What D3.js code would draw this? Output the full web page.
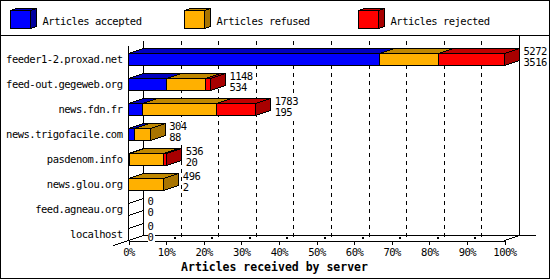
<!DOCTYPE html>
<html>
<head>
<meta charset="utf-8">
<script src="https://cdn.jsdelivr.net/npm/d3@7"></script>
<style>
  body { margin: 0; background: #fff; }
  text { font-family: "DejaVu Sans Mono", monospace; font-size: 10.5px; letter-spacing: -0.5px; fill: #000; }
</style>
</head>
<body>
<div id="chart-area"></div>
<script>
// Data
const servers = ["feeder1-2.proxad.net", "feed-out.gegeweb.org", "news.fdn.fr", "news.trigofacile.com",
    "pasdenom.info", "news.glou.org", "feed.agneau.org", "localhost"];
const totals   = [5272, 1148, 1783, 304, 536, 496, 0, 0];
const accepted = [3516, 534, 195, 88, 20, 2, 0, 0];
const refused  = [834, 544, 1039, 216, 475, 494, 0, 0];
const rejected = [922, 70, 549, 0, 41, 0, 0, 0];
const seriesNames = ["Articles accepted", "Articles refused", "Articles rejected"];
const tickValues = [0, 10, 20, 30, 40, 50, 60, 70, 80, 90, 100];
const axisTitle = "Articles received by server";

const chartWidth = 550, chartHeight = 280;
const depth = { dx: 15, dy: -5 };
const barHalf = 6;

const frontColors = ["#0000ff", "#ffb000", "#ff0000"];
const topColors   = ["#0000c0", "#c08800", "#c00000"];
const sideColors  = ["#0000a0", "#a87400", "#a80000"];

const svg = d3.select("#chart-area").append("svg")
    .attr("width", chartWidth)
    .attr("height", chartHeight)
    .attr("shape-rendering", "crispEdges");

const g = svg.append("g").attr("transform", "translate(0.5,0.5)");

// frames
g.append("rect").attr("x", 0).attr("y", 0).attr("width", 549).attr("height", 35)
    .attr("fill", "none").attr("stroke", "#000");
g.append("rect").attr("x", 0).attr("y", 35).attr("width", 549).attr("height", 243)
    .attr("fill", "none").attr("stroke", "#000");

// legend
const legend = g.selectAll(".legend").data(seriesNames).enter().append("g")
    .attr("class", "legend")
    .attr("transform", (d, i) => `translate(${10 + i * 174}, 10)`);
legend.append("polygon")
    .attr("points", "0,0 6,-2 26,-2 20,0")
    .attr("fill", (d, i) => topColors[i]).attr("stroke", "#000");
legend.append("polygon")
    .attr("points", "20,0 26,-2 26,16 20,18")
    .attr("fill", (d, i) => sideColors[i]).attr("stroke", "#000");
legend.append("rect")
    .attr("width", 20).attr("height", 18)
    .attr("fill", (d, i) => frontColors[i]).attr("stroke", "#000");
legend.append("text")
    .attr("x", 32).attr("y", 14)
    .text(d => d);

// scales
const x = d3.scaleLinear().domain([0, 100]).range([128, 504]);
const xv = d3.scaleLinear().domain([0, d3.max(totals)]).range([128, 504]);
const y = d3.scalePoint().domain(servers).range([59, 234]);

const floorY = 240;
const topY = 45;

// back wall + grid
tickValues.slice(1, -1).forEach(t => {
    g.append("line")
        .attr("x1", x(t) + depth.dx).attr("x2", x(t) + depth.dx)
        .attr("y1", topY + depth.dy).attr("y2", floorY + depth.dy + 2)
        .attr("stroke", "#000").attr("stroke-dasharray", "4,4");
});
g.append("line").attr("x1", x(0) + depth.dx).attr("x2", x(0) + depth.dx)
    .attr("y1", topY + depth.dy).attr("y2", floorY + depth.dy).attr("stroke", "#000");
g.append("line").attr("x1", x(100) + depth.dx).attr("x2", x(100) + depth.dx)
    .attr("y1", 35).attr("y2", floorY + depth.dy).attr("stroke", "#000");

// floor
g.append("line").attr("x1", x(0) + depth.dx).attr("x2", x(100) + 31)
    .attr("y1", floorY + depth.dy).attr("y2", floorY + depth.dy).attr("stroke", "#000");
g.append("line").attr("x1", x(0) - 15).attr("y1", floorY + 5)
    .attr("x2", x(0) + depth.dx).attr("y2", floorY + depth.dy).attr("stroke", "#000");
g.append("line").attr("x1", x(100)).attr("y1", floorY)
    .attr("x2", x(100) + depth.dx).attr("y2", floorY + depth.dy).attr("stroke", "#000");
g.append("line").attr("x1", x(0)).attr("x2", x(0))
    .attr("y1", topY).attr("y2", floorY).attr("stroke", "#000");

// bottom axis
const xAxis = g.append("g")
    .attr("transform", `translate(0,${floorY})`)
    .call(d3.axisBottom(x).tickValues(tickValues).tickFormat(d => d + "%").tickSize(4).tickPadding(4));
xAxis.select(".domain").attr("stroke", "#000");
xAxis.selectAll("text").attr("font-family", null).attr("font-size", null);
xAxis.selectAll(".tick").filter(d => d > 0 && d < 100).append("rect")
    .attr("x", 7).attr("y", -4).attr("width", 2).attr("height", 2).attr("fill", "#000");

// category labels
const yAxis = g.append("g")
    .attr("transform", "translate(125,0)")
    .call(d3.axisLeft(y).tickSize(0).tickPadding(3));
yAxis.select(".domain").remove();
yAxis.selectAll("text").attr("font-family", null).attr("font-size", null);

// bars
servers.forEach((s, i) => {
    const cy = y(s);
    const yt = cy - barHalf, yb = cy + barHalf;
    const values = [accepted[i], refused[i], rejected[i]];
    let start = 0;
    const bar = g.append("g").attr("class", "bar");
    values.forEach((v, k) => {
        if (v <= 0) return;
        const x0 = xv(start), x1 = xv(start + v);
        bar.append("polygon")
            .attr("points", [[x0, yt], [x0 + depth.dx, yt + depth.dy], [x1 + depth.dx, yt + depth.dy], [x1, yt]].join(" "))
            .attr("fill", topColors[k]).attr("stroke", "#000");
        bar.append("rect")
            .attr("x", x0).attr("y", yt).attr("width", x1 - x0).attr("height", yb - yt)
            .attr("fill", frontColors[k]).attr("stroke", "#000");
        start += v;
    });
    const lastK = values[2] > 0 ? 2 : values[1] > 0 ? 1 : 0;
    const xe = xv(totals[i]);
    bar.append("polygon")
        .attr("points", [[xe, yt], [xe + depth.dx, yt + depth.dy], [xe + depth.dx, yb + depth.dy], [xe, yb]].join(" "))
        .attr("fill", totals[i] > 0 ? sideColors[lastK] : "none").attr("stroke", "#000");

    // value labels on a white box, covering the grid behind them
    const lab = g.append("g").attr("transform", `translate(${xe + depth.dx + 4},${cy})`);
    const bg = lab.append("rect").attr("fill", "#fff").attr("stroke", "none");
    const t1 = lab.append("text").attr("y", -5).text(totals[i]);
    const t2 = lab.append("text").attr("y", 6).text(accepted[i]);
    const w = Math.max(t1.node().getComputedTextLength(), t2.node().getComputedTextLength());
    bg.attr("x", 0).attr("y", -13).attr("width", Math.ceil(w) + 1).attr("height", 21);
});

// axis title
g.append("text")
    .attr("x", 274).attr("y", 270)
    .attr("text-anchor", "middle")
    .style("font-weight", "bold")
    .style("font-size", "11.5px")
    .style("letter-spacing", "0px")
    .text(axisTitle);
</script>
</body>
</html>
